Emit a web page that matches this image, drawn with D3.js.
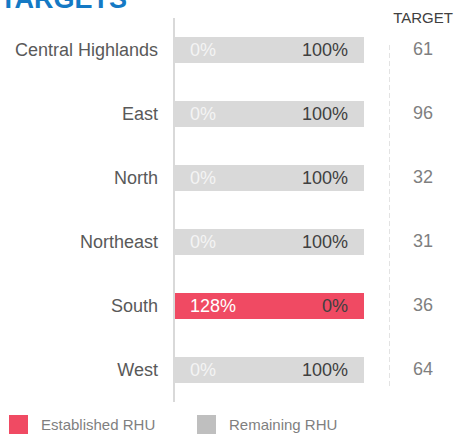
<!DOCTYPE html>
<html><head><meta charset="utf-8">
<script src="https://cdn.jsdelivr.net/npm/d3@7"></script>
<style>body{margin:0;background:#fff}svg{display:block;font-family:"Liberation Sans",Arial,sans-serif}</style>
</head><body><svg id="c" width="454" height="434"></svg>
<script>
const categories = ["Central Highlands","East","North","Northeast","South","West"];
const establishedPct = [0,0,0,0,128,0];
const remainingPct = [100,100,100,100,0,100];
const targets = [61,96,32,31,36,64];
const seriesNames = ["Established RHU","Remaining RHU"];
const colors = ["#f04a63","#d9d9d9"];
const legendColors = ["#f04a63","#bfbfbf"];

const svg = d3.select("#c");
const y = d3.scaleBand().domain(categories).range([18,402]).paddingInner(0.594).paddingOuter(0.297);
const x = d3.scaleLinear().domain([0,100]).range([175,364]);

svg.append("text").attr("x",0).attr("y",8).attr("font-size",27).attr("font-weight","bold")
  .attr("fill","#1479c4").text("TARGETS");

// category labels
const yAxis = d3.axisLeft(y).tickSize(0).tickPadding(16);
const ga = svg.append("g").attr("transform","translate(174,0)").call(yAxis);
ga.select(".domain").remove();
ga.selectAll("text").attr("font-size",18).attr("fill","#595959").attr("font-family","Liberation Sans, Arial, sans-serif");

const rows = categories.map((c,i)=>({c, est:establishedPct[i], rem:remainingPct[i], t:targets[i]}));
const g = svg.append("g");
rows.forEach(d=>{
  const e = Math.min(d.est,100);
  const yy = y(d.c), h = y.bandwidth();
  g.append("rect").attr("x",x(0)).attr("y",yy).attr("width",x(e)-x(0)).attr("height",h).attr("fill",colors[0]);
  g.append("rect").attr("x",x(e)).attr("y",yy).attr("width",x(e+d.rem)-x(e)).attr("height",h).attr("fill",colors[1]);
  g.append("text").attr("x",x(0)+15).attr("y",yy+h/2).attr("dy","0.35em").attr("font-size",18)
    .attr("fill", e>0 ? "#ffffff" : "#f4f4f4").text(d.est+"%");
  g.append("text").attr("x",x(100)-16).attr("y",yy+h/2).attr("dy","0.35em").attr("font-size",18)
    .attr("text-anchor","end").attr("fill","#404040").text(d.rem+"%");
  g.append("text").attr("x",423).attr("y",yy+h/2-1).attr("dy","0.35em").attr("font-size",18)
    .attr("text-anchor","middle").attr("fill","#7f7f7f").text(d.t);
});

// axis line
svg.append("line").attr("x1",174).attr("x2",174).attr("y1",18).attr("y2",402)
  .attr("stroke","#d9d9d9").attr("stroke-width",2);
// dashed separator
svg.append("line").attr("x1",389.5).attr("x2",389.5).attr("y1",45).attr("y2",387)
  .attr("stroke","#e3e3e3").attr("stroke-width",1).attr("stroke-dasharray","5,3");

svg.append("text").attr("x",423).attr("y",18).attr("dy","0.35em").attr("font-size",15)
  .attr("text-anchor","middle").attr("fill","#404040").text("TARGET");

// legend
const lx = [9,197];
seriesNames.forEach((n,i)=>{
  svg.append("rect").attr("x",lx[i]).attr("y",415).attr("width",19).attr("height",19).attr("fill",legendColors[i]);
  svg.append("text").attr("x",lx[i]+32).attr("y",425).attr("dy","0.35em").attr("font-size",15)
    .attr("fill","#7f7f7f").text(n);
});
</script></body></html>
